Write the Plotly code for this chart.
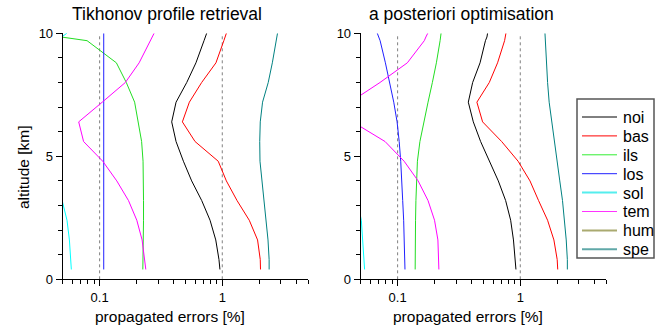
import plotly.graph_objects as go
import math

altitude = [0.4, 0.8, 1.6, 2.4, 3.2, 4.0, 4.8, 5.6, 6.4, 7.2, 8.0, 8.8, 9.7, 9.85, 10.0]

names = ["noi", "bas", "ils", "los", "sol", "tem", "hum", "spe"]
colors = ["#000000", "#ff0000", "#22dd22", "#2020ff", "#00ffff", "#ff00ff", "#a8a860", "#008080"]
legend_colors = ["#000000", "#ff0000", "#33ee33", "#2020ff", "#55eeee", "#ff33ff", "#aaaa70", "#60a8a8"]
legend_widths = [1, 1, 1, 1, 2, 1, 2, 2]

# Tikhonov profile retrieval
tik_noi = [0.957, 0.94, 0.885, 0.795, 0.68, 0.563, 0.482, 0.42, 0.387, 0.42, 0.513, 0.61, 0.71, 0.73, 0.746]
tik_bas = [2.05, 2.04, 1.94, 1.66, 1.32, 1.08, 0.927, 0.6, 0.473, 0.539, 0.679, 0.888, 1.03, 1.06, 1.08]
tik_ils = [0.225, 0.226, 0.227, 0.228, 0.228, 0.228, 0.226, 0.22, 0.2075, 0.193, 0.165, 0.137, 0.079, 0.049, 0.03]
tik_los = [0.108] * 15
tik_sol = [0.0588, 0.058, 0.0567, 0.0542, 0.0495, 0.04, 0.03, 0.03, 0.03, 0.03, 0.03, 0.03, 0.03, 0.049, 0.054]
tik_tem = [0.238, 0.233, 0.222, 0.201, 0.172, 0.138, 0.106, 0.074, 0.0675, 0.105, 0.162, 0.21, 0.262, 0.27, 0.278]
tik_hum = [0.01] * 15
tik_spe = [2.41, 2.41, 2.36, 2.27, 2.18, 2.09, 2.03, 2.02, 2.04, 2.13, 2.37, 2.56, 2.73, 2.77, 2.82]

# a posteriori optimisation
apo_noi = [0.922, 0.91, 0.88, 0.835, 0.76, 0.662, 0.557, 0.475, 0.414, 0.377, 0.409, 0.47, 0.52, 0.535, 0.541]
apo_bas = [2.02, 2.0, 1.88, 1.67, 1.41, 1.2, 0.96, 0.705, 0.493, 0.443, 0.559, 0.653, 0.745, 0.755, 0.764]
apo_ils = [0.139, 0.139, 0.139, 0.14, 0.141, 0.142, 0.145, 0.152, 0.163, 0.177, 0.192, 0.207, 0.222, 0.224, 0.226]
apo_los = [0.1148, 0.1145, 0.1135, 0.112, 0.11, 0.1085, 0.106, 0.103, 0.099, 0.093, 0.0866, 0.0795, 0.072, 0.07, 0.0683]
apo_sol = [0.0538, 0.0532, 0.0518, 0.0506, 0.047, 0.03, 0.03, 0.03, 0.03, 0.03, 0.03, 0.03, 0.03, 0.03, 0.03]
apo_tem = [0.217, 0.216, 0.213, 0.2, 0.177, 0.147, 0.113, 0.079, 0.043, 0.041, 0.0718, 0.12, 0.165, 0.17, 0.176]
apo_hum = [0.01] * 15
apo_spe = [2.42, 2.42, 2.37, 2.3, 2.21, 2.1, 2.0, 1.9, 1.81, 1.72, 1.67, 1.63, 1.6, 1.595, 1.59]

tik = [tik_noi, tik_bas, tik_ils, tik_los, tik_sol, tik_tem, tik_hum, tik_spe]
apo = [apo_noi, apo_bas, apo_ils, apo_los, apo_sol, apo_tem, apo_hum, apo_spe]

major_ticks = [0.1, 1]
major_text = ["0.1", "1"]
minor_ticks = [0.05, 0.06, 0.07, 0.08, 0.09, 0.2, 0.3, 0.4, 0.5, 0.6, 0.7, 0.8, 0.9, 2, 3, 4, 5]

FONT = "Liberation Sans, Arial, sans-serif"
W, H = 660, 332

fig = go.Figure()
for i, n in enumerate(names):
    fig.add_trace(go.Scatter(x=tik[i], y=altitude, mode="lines", name=n, legendgroup=n,
                             showlegend=False,
                             line=dict(color=colors[i], width=1), xaxis="x", yaxis="y"))
for i, n in enumerate(names):
    fig.add_trace(go.Scatter(x=apo[i], y=altitude, mode="lines", name=n, legendgroup=n,
                             showlegend=False,
                             line=dict(color=colors[i], width=1), xaxis="x2", yaxis="y2"))

xcommon = dict(type="log", range=[math.log10(0.05), math.log10(5)], showline=True, linecolor="black",
               linewidth=1, ticks="outside", ticklen=6, tickcolor="black", tickvals=major_ticks,
               ticktext=major_text, showgrid=False, zeroline=False, automargin=False,
               tickfont=dict(size=13, color="black"),
               minor=dict(tickvals=minor_ticks, ticks="outside", ticklen=4, tickcolor="black", showgrid=False))
ycommon = dict(range=[0, 10], showline=True, linecolor="black", linewidth=1, ticks="outside",
               ticklen=6, tickcolor="black", tickvals=[0, 5, 10], showgrid=False, zeroline=False,
               automargin=False, tickfont=dict(size=13, color="black"),
               minor=dict(dtick=1, ticks="outside", ticklen=4, tickcolor="black", showgrid=False))

fig.update_layout(
    width=W, height=H,
    margin=dict(l=0, r=0, t=0, b=0, autoexpand=False),
    paper_bgcolor="white", plot_bgcolor="white",
    font=dict(family=FONT, color="black"),
    xaxis=dict(domain=[62.7 / W, 308 / W], anchor="y", **xcommon),
    yaxis=dict(domain=[1 - 279.3 / H, 1 - 33.3 / H], anchor="x", **ycommon),
    xaxis2=dict(domain=[360.7 / W, 606 / W], anchor="y2", **xcommon),
    yaxis2=dict(domain=[1 - 279.3 / H, 1 - 33.3 / H], anchor="x2", **ycommon),
    showlegend=False,
)

for xr in ["x", "x2"]:
    for v in major_ticks:
        fig.add_shape(type="line", xref=xr, yref=("y" if xr == "x" else "y2") + " domain",
                      x0=v, x1=v, y0=0, y1=1, line=dict(color="#808080", width=1, dash="3px,3px"),
                      layer="below")

ann = [
    dict(text="Tikhonov profile retrieval", x=167 / W, y=1 - 14 / H, size=17.5),
    dict(text="a posteriori optimisation", x=461.5 / W, y=1 - 14 / H, size=17.5),
    dict(text="propagated errors [%]", x=170 / W, y=1 - 316 / H, size=15.5),
    dict(text="propagated errors [%]", x=468 / W, y=1 - 316 / H, size=15.5),
]
for a in ann:
    fig.add_annotation(text=a["text"], x=a["x"], y=a["y"], xref="paper", yref="paper",
                       showarrow=False, xanchor="center", yanchor="middle",
                       font=dict(size=a["size"], family=FONT, color="black"))
fig.add_annotation(text="altitude [km]", x=23 / W, y=1 - 167 / H, xref="paper", yref="paper",
                   showarrow=False, textangle=-90, xanchor="center", yanchor="middle",
                   font=dict(size=15.5, family=FONT, color="black"))

# legend box drawn in paper coordinates
fig.add_shape(type="rect", xref="paper", yref="paper", x0=577 / W, x1=654 / W,
              y0=1 - 258 / H, y1=1 - 99 / H, line=dict(color="#555555", width=1.5),
              fillcolor="white", layer="above")
for i, n in enumerate(names):
    yc = 117 + 18.9 * i
    fig.add_shape(type="line", xref="paper", yref="paper", x0=582 / W, x1=617 / W,
                  y0=1 - yc / H, y1=1 - yc / H,
                  line=dict(color=legend_colors[i], width=legend_widths[i]), layer="above")
    fig.add_annotation(text=n, x=621 / W, y=1 - (yc + 0.5) / H, xref="paper", yref="paper",
                       showarrow=False, xanchor="left", yanchor="middle",
                       font=dict(size=16, family=FONT, color="black"))

fig.write_html("out.html")
